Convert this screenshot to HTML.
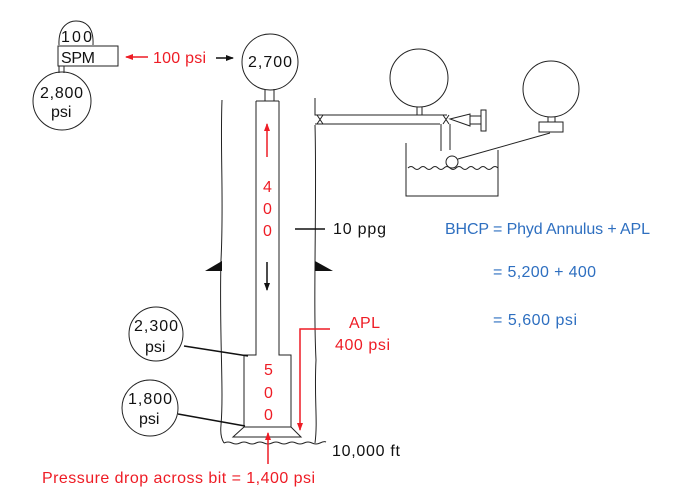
<!DOCTYPE html>
<html><head><meta charset="utf-8"><style>
html,body{margin:0;padding:0;background:#fff}
svg{display:block}
text{font-family:"Liberation Sans",sans-serif;font-size:16px}
.r{fill:#ee1c25}.b{fill:#2e6fc0}.k{fill:#111}
</style></head><body>
<svg width="688" height="496" viewBox="0 0 688 496" xmlns="http://www.w3.org/2000/svg">
<defs>
<marker id="ar" markerWidth="8" markerHeight="8" refX="7" refY="4" orient="auto" markerUnits="userSpaceOnUse"><path d="M0,1 L8,4 L0,7z" fill="#ee1c25"/></marker>
<marker id="ak" markerWidth="8" markerHeight="8" refX="7" refY="4" orient="auto" markerUnits="userSpaceOnUse"><path d="M0,1 L8,4 L0,7z" fill="#111"/></marker>
</defs>
<g fill="none" stroke="#222" stroke-width="1">
<path d="M59,45 C58,25 70,21 76,21 C84,21 94,25 93,45"/>
<rect x="58" y="46" width="60" height="20"/>
<path d="M59,66 V73 M64,66 V73"/>
<circle cx="62" cy="101" r="29"/>
<circle cx="270" cy="62" r="28"/>
<path d="M265,89 V101 M274,89 V101"/>
<path d="M222,100 C220,150 224,200 221,260 C219,330 224,390 221,425 C220,435 222,440 224,443"/>
<path d="M224,443 q4,-2 8,0 t8,0 t8,0 t8,0 t8,0 t8,0 t8,0 t8,0 t8,0 t8,0 t8,0 t8,0 t6,-1"/>
<path d="M315,125 C317,200 313,300 316,360 C314,400 318,420 315,443"/>
<path d="M315,98 V115 H447 M315,124 H440"/>
<path d="M256,101 V355 H244 V427 M279,101 V355 H291 V427"/>
<path d="M256,101 H279"/>
<path d="M244,427 H291 L301,437 H233 Z"/>
<circle cx="419" cy="78" r="29"/>
<path d="M417,107 V115 M422,107 V115"/>
<path d="M317,115 L323,124 M323,115 L317,124 M443,115 L449,124 M449,115 L443,124"/>
<path d="M441,124 V151 M450,124 V150"/>
<path d="M450,119 L470,114 V126 Z"/>
<rect x="470" y="116" width="11" height="8"/>
<rect x="481" y="110" width="5" height="21"/>
<path d="M406,143 V196 H498 V150"/>
<path d="M408,168 q3,-3 6,0 t6,0 t6,0 t6,0 t6,0 t6,0 t6,0 t6,0 t6,0 t6,0 t6,0 t6,0 t6,0 t6,0 t6,0"/>
<circle cx="452" cy="162" r="6"/>
<path d="M458,159 L550,133"/>
<circle cx="551" cy="89" r="28"/>
<path d="M548,117 V122 M555,117 V122"/>
<rect x="539" y="122" width="24" height="10"/>
<circle cx="156" cy="334" r="27"/>
<circle cx="150" cy="408" r="28"/>
</g>
<g stroke="#111" stroke-width="1.5" fill="none">
<path d="M184,346 L248,356"/>
<path d="M178,414 L245,426"/>
<path d="M295,229 H325"/>
<path d="M216,58 H233" marker-end="url(#ak)"/>
<path d="M267,262 V290" marker-end="url(#ak)"/>
</g>
<path d="M205,271 L222,261 V271Z" fill="#111"/>
<path d="M333,271 L315,261 V271Z" fill="#111"/>
<g stroke="#ee1c25" stroke-width="1.5" fill="none">
<path d="M148,57 H126" marker-end="url(#ar)"/>
<path d="M267,157 V124" marker-end="url(#ar)"/>
<path d="M330,329 H300 V430" marker-end="url(#ar)"/>
<path d="M268,464 V433" marker-end="url(#ar)"/>
</g>
<g class="k">
<text x="61" y="42" textLength="31">100</text>
<text x="61" y="63" textLength="34">SPM</text>
<text x="40" y="98" textLength="43">2,800</text>
<text x="51" y="117">psi</text>
<text x="248" y="67" textLength="44">2,700</text>
<text x="134" y="331" textLength="44">2,300</text>
<text x="145" y="352">psi</text>
<text x="128" y="404" textLength="44">1,800</text>
<text x="139" y="424">psi</text>
<text x="333" y="234" textLength="53">10 ppg</text>
<text x="332" y="456" textLength="68">10,000 ft</text>
</g>
<g class="r">
<text x="153" y="63" textLength="53">100 psi</text>
<text x="263" y="192">4</text>
<text x="263" y="214">0</text>
<text x="263" y="236">0</text>
<text x="264" y="375">5</text>
<text x="264" y="398">0</text>
<text x="264" y="420">0</text>
<text x="349" y="328" textLength="31">APL</text>
<text x="335" y="350" textLength="55">400 psi</text>
<text x="42" y="483" textLength="273">Pressure drop across bit = 1,400 psi</text>
</g>
<g class="b">
<text x="445" y="234" textLength="205">BHCP = Phyd Annulus + APL</text>
<text x="493" y="277" textLength="103">= 5,200 + 400</text>
<text x="493" y="325" textLength="84">= 5,600 psi</text>
</g>
</svg>
</body></html>
